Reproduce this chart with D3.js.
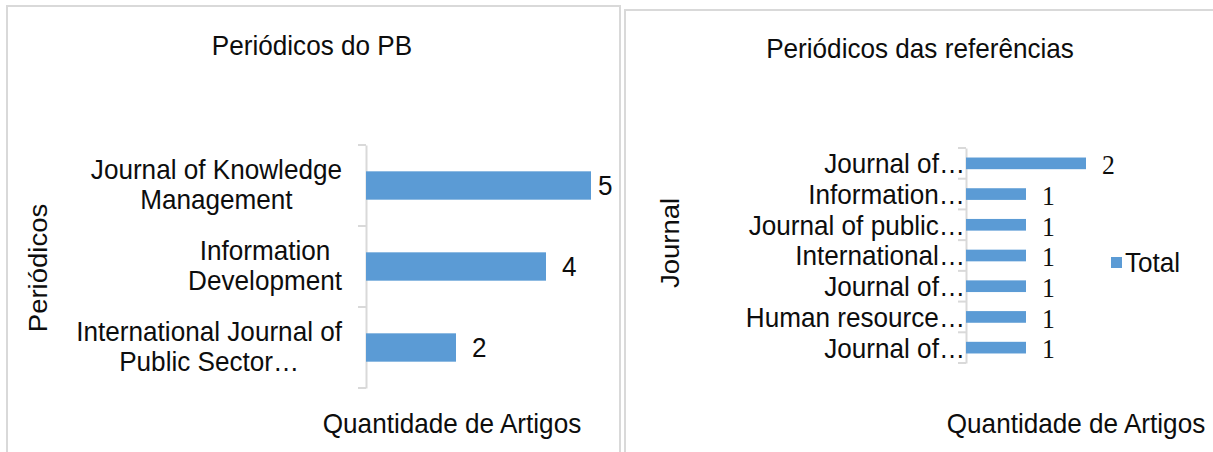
<!DOCTYPE html>
<html>
<head>
<meta charset="utf-8">
<script src="https://cdnjs.cloudflare.com/ajax/libs/d3/7.8.5/d3.min.js"></script>
<style>
  body { margin: 0; background: #fff; }
  svg { display: block; }
</style>
</head>
<body>
<script>
// left chart: periodicos do PB
var pbJournals = ["Journal of Knowledge Management", "Information Development", "International Journal of Public Sector…"];
var pbLines = [["Journal of Knowledge", "Management"], ["Information ", "Development"], ["International Journal of", "Public Sector…"]];
var pbCounts = [5, 4, 2];

// right chart: periodicos das referencias
var refJournals = ["Journal of…", "Information…", "Journal of public…", "International…", "Journal of…", "Human resource…", "Journal of…"];
var refCounts = [2, 1, 1, 1, 1, 1, 1];

var width = 1213, height = 452;
var blue = "#5b9bd5";
var grid = "#d9d9d9";
// original picture is a little stretched vertically, so glyphs are squeezed sideways
var fs = 27.5, sx = 0.95;
var sans = "'Liberation Sans', Arial, sans-serif";
var serif = "'Liberation Serif', 'Times New Roman', serif";

var svg = d3.select("body").append("svg")
    .attr("width", width)
    .attr("height", height);

svg.append("rect").attr("width", width).attr("height", height).attr("fill", "#fff");

// chart frames
svg.append("rect").attr("x", 7).attr("y", 6).attr("width", 613).attr("height", 470)
    .attr("fill", "none").attr("stroke", grid).attr("stroke-width", 2);
svg.append("rect").attr("x", 625).attr("y", 10).attr("width", 620).attr("height", 470)
    .attr("fill", "none").attr("stroke", grid).attr("stroke-width", 2);

// text helper, anchor at (x,y) with vertical centre on caps
function label(g, x, y, str, opts) {
    opts = opts || {};
    var t = g.append("text")
        .attr("transform", "translate(" + x + "," + y + ") scale(" + sx + ",1)" + (opts.rotate ? " rotate(" + opts.rotate + ")" : ""))
        .attr("dy", "0.36em")
        .attr("text-anchor", opts.anchor || "start")
        .style("font-family", opts.font || sans)
        .style("font-size", (opts.size || fs) + "px")
        .attr("fill", "#0d0d0d")
        .text(str);
    return t;
}

// ---------- left chart ----------
var gL = svg.append("g");
var xL = d3.scaleLinear().domain([0, 5]).range([366, 591]);
var yL = d3.scaleBand().domain(d3.range(pbJournals.length)).range([145, 388])
    .paddingInner(0.65).paddingOuter(0.325);

label(gL, 312, 45, "Periódicos do PB", {anchor: "middle"});

gL.append("g")
    .attr("transform", "translate(" + xL(0) + ",0)")
    .call(d3.axisLeft(yL).tickValues([]).tickSizeOuter(0))
    .call(function (a) { a.select(".domain").attr("stroke", grid).attr("stroke-width", 2); });

d3.range(pbJournals.length + 1).forEach(function (i) {
    var yy = yL.range()[0] + i * yL.step();
    gL.append("line").attr("x1", xL(0) - 8).attr("x2", xL(0)).attr("y1", yy).attr("y2", yy)
        .attr("stroke", grid).attr("stroke-width", 2);
});

gL.selectAll("rect.bar").data(pbCounts).enter().append("rect")
    .attr("class", "bar")
    .attr("x", xL(0))
    .attr("y", function (d, i) { return yL(i); })
    .attr("width", function (d) { return xL(d) - xL(0); })
    .attr("height", yL.bandwidth())
    .attr("fill", blue);

// labels sit 16px after the bar, but the longest one is pushed back inside the frame
pbCounts.forEach(function (d, i) {
    label(gL, Math.min(xL(d) + 16, 598), yL(i) + yL.bandwidth() / 2, d);
});

// wrapped category labels: block right aligned, lines centred in block
pbLines.forEach(function (lines, i) {
    var cy = yL(i) + yL.bandwidth() / 2 - 1;
    var ts = lines.map(function (s, k) {
        return label(gL, 0, cy + (k - (lines.length - 1) / 2) * 30, s, {anchor: "middle"});
    });
    var w = d3.max(ts, function (t) { return t.node().getComputedTextLength(); }) * sx;
    var cx = 342 - w / 2;
    ts.forEach(function (t, k) {
        t.attr("transform", "translate(" + cx + "," + (cy + (k - (lines.length - 1) / 2) * 30) + ") scale(" + sx + ",1)");
    });
});

label(gL, 38, 268, "Periódicos", {anchor: "middle", rotate: -90});
label(gL, 452, 423, "Quantidade de Artigos", {anchor: "middle"});

// ---------- right chart ----------
var gR = svg.append("g");
var xR = d3.scaleLinear().domain([0, 2]).range([966, 1086]);
var yR = d3.scaleBand().domain(d3.range(refJournals.length)).range([148, 363])
    .paddingInner(0.62).paddingOuter(0.31);

label(gR, 920, 48, "Periódicos das referências", {anchor: "middle"});

gR.append("g")
    .attr("transform", "translate(" + xR(0) + ",0)")
    .call(d3.axisLeft(yR).tickValues([]).tickSizeOuter(0))
    .call(function (a) { a.select(".domain").attr("stroke", grid).attr("stroke-width", 2); });

d3.range(refJournals.length + 1).forEach(function (i) {
    var yy = yR.range()[0] + i * yR.step();
    gR.append("line").attr("x1", xR(0) - 8).attr("x2", xR(0)).attr("y1", yy).attr("y2", yy)
        .attr("stroke", grid).attr("stroke-width", 2);
});

gR.selectAll("rect.bar").data(refCounts).enter().append("rect")
    .attr("class", "bar")
    .attr("x", xR(0))
    .attr("y", function (d, i) { return yR(i); })
    .attr("width", function (d) { return xR(d) - xR(0); })
    .attr("height", yR.bandwidth())
    .attr("fill", blue);

refCounts.forEach(function (d, i) {
    label(gR, xR(d) + 16, yR(i) + yR.bandwidth() / 2 + 1, d, {font: serif, size: 27});
});

refJournals.forEach(function (s, i) {
    label(gR, xR(0) - 1, yR(i) + yR.bandwidth() / 2, s, {anchor: "end"});
});

label(gR, 670, 243, "Journal", {anchor: "middle", rotate: -90});
label(gR, 1076, 423, "Quantidade de Artigos", {anchor: "middle"});

// legend
gR.append("rect").attr("x", 1111).attr("y", 257).attr("width", 11).attr("height", 11).attr("fill", blue);
label(gR, 1125, 262, "Total");
</script>
</body>
</html>
